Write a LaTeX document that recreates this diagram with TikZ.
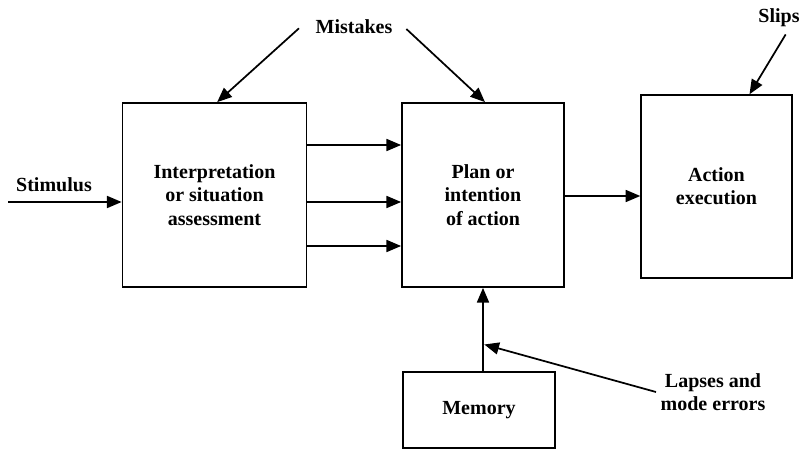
\documentclass[tikz,border=0pt]{standalone}
\usepackage{fontspec}
\setmainfont{Liberation Serif}
\usepackage{tikz}
\usetikzlibrary{positioning,arrows.meta}
\tikzset{
  block/.style={draw,line width=1.3pt,align=center,font=\fontsize{15}{17.5}\selectfont\bfseries},
  lbl/.style={align=center,font=\fontsize{15}{17.5}\selectfont\bfseries},
  arr/.style={-{Triangle[length=11pt,width=9pt]},line width=1.3pt}
}

\begin{document}
\begin{tikzpicture}[x=0.75pt,y=-0.75pt]
\useasboundingbox (0,0) rectangle (807,452);

\node[block,minimum width=138pt,minimum height=138pt] (I) at (214.5,195)
  {Interpretation\\or situation\\assessment};
\node[block,minimum width=121.5pt,minimum height=138pt] (P) at (483,195)
  {Plan or\\intention\\of action};
\node[block,minimum width=113pt,minimum height=137pt] (E) at (716.5,186.5)
  {Action\\execution};
\node[block,minimum width=114pt,minimum height=57pt] (M) at (479,410) {Memory};

\node[lbl] (stim) at (54,185) {Stimulus};
\node[lbl] (mis) at (354,27) {Mistakes};
\node[lbl] (slp) at (779,18) {Slips};
\node[lbl] (lap) at (713,392) {Lapses and\\mode errors};

\coordinate (st) at (8,202);
\draw[arr] (st) -- (st -| I.west);

% three links between the first two blocks
\foreach \dy in {-50,7,51}
  \draw[arr] ([yshift=-\dy*0.75pt]I.east) -- ([yshift=-\dy*0.75pt]I.east -| P.west);

\draw[arr] ([yshift=-0.75pt]P.east) -- ([yshift=-0.75pt]P.east -| E.west);
\draw[arr] (M.north -| P.south) -- coordinate[pos=0.32] (m) (P.south);

\draw[arr] ([xshift=-9pt,yshift=-1pt]mis.west) -- ([xshift=2pt]I.north);
\draw[arr] ([xshift=7pt,yshift=-1.5pt]mis.east) -- ([xshift=1.5pt]P.north);
\draw[arr] ([xshift=5pt,yshift=-2pt]slp.south) -- ([xshift=24.75pt]E.north);
\draw[arr] (lap.west) -- ([xshift=1pt]m);
\end{tikzpicture}
\end{document}
